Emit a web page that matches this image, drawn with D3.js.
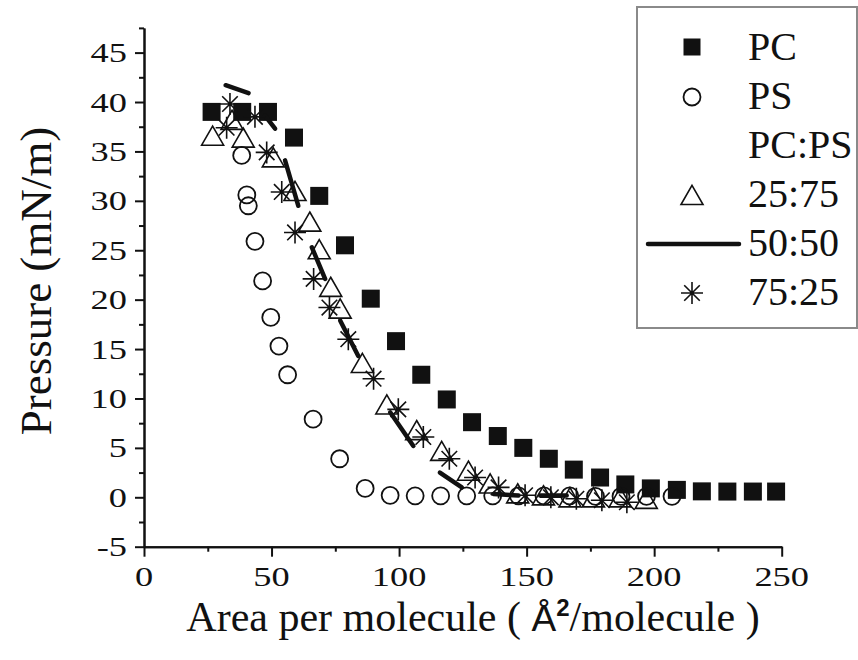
<!DOCTYPE html>
<html><head><meta charset="utf-8">
<script src="https://cdn.jsdelivr.net/npm/d3@7"></script>
<style>html,body{margin:0;padding:0;background:#fff}</style>
</head><body>
<svg id="chart" width="858" height="660"></svg>
<script>
// ---- data ----
const pcX = [26.5, 38.5, 48.6, 58.8, 68.7, 78.8, 88.9, 98.8, 108.7, 118.7, 128.6, 138.7, 148.7, 158.7, 168.5, 178.8, 188.7, 198.7, 208.9, 218.7, 228.7, 238.7, 247.8];
const pcY = [39.0, 39.0, 39.0, 36.4, 30.5, 25.5, 20.1, 15.8, 12.4, 9.9, 7.6, 6.2, 5.0, 3.9, 2.8, 2.0, 1.3, 0.9, 0.75, 0.6, 0.58, 0.58, 0.58];
const psX = [38.3, 40.3, 40.9, 43.5, 46.5, 49.7, 52.9, 56.3, 66.3, 76.7, 86.7, 96.5, 106.3, 116.3, 126.5, 136.7, 146.8, 156.8, 166.9, 177.0, 187.0, 197.0, 207.0];
const psY = [34.6, 30.6, 29.5, 25.9, 21.9, 18.2, 15.3, 12.4, 7.9, 3.9, 0.9, 0.2, 0.15, 0.15, 0.15, 0.15, 0.15, 0.15, 0.15, 0.1, 0.1, 0.1, 0.1];
const s2575X = [26.9, 34.5, 38.9, 50.7, 59.2, 65.0, 68.7, 73.2, 76.9, 85.6, 95.2, 106.9, 116.7, 127.2, 135.7, 146.5, 156.6, 167.0, 176.2, 186.7, 196.9];
const s2575Y = [36.6, 38.2, 36.4, 34.4, 31.0, 27.9, 25.1, 21.3, 19.1, 13.6, 9.4, 6.8, 4.7, 2.7, 1.4, 0.4, 0.2, 0.0, 0.0, 0.0, -0.15];
// 50:50 curve, drawn as broken segments (pairs of points)
const s5050X = [32.0, 41.0, 47.5, 51.4, 55.3, 60.5, 65.8, 71.0, 76.9, 84.0, 96.5, 105.6, 116.0, 124.6, 137.0, 146.8, 155.3, 165.7];
const s5050Y = [41.7, 40.9, 38.6, 37.3, 34.1, 29.5, 25.3, 22.1, 17.9, 14.3, 8.6, 5.2, 2.5, 1.0, 0.34, 0.17, 0.17, 0.17];
const s7525X = [33.7, 32.4, 43.5, 48.1, 54.0, 59.2, 66.5, 72.7, 80.1, 90.0, 99.7, 109.5, 119.7, 129.8, 139.0, 149.4, 159.5, 169.5, 179.5, 189.3];
const s7525Y = [39.8, 37.4, 38.5, 34.9, 30.9, 26.8, 22.1, 19.2, 16.0, 12.0, 8.9, 6.1, 3.9, 2.0, 1.0, 0.2, 0.0, -0.15, -0.3, -0.5];
const xMajorTicks = [0, 50, 100, 150, 200, 250];
const xMinorTicks = [25, 75, 125, 175, 225];
const yMajorTicks = [-5, 0, 5, 10, 15, 20, 25, 30, 35, 40, 45];
const yMinorTicks = [-2.5, 2.5, 7.5, 12.5, 17.5, 22.5, 27.5, 32.5, 37.5, 42.5, 47.5];
const legendLabels = ["PC", "PS", "PC:PS", "25:75", "50:50", "75:25"];

// ---- drawing ----
const svg = d3.select("#chart");
const ink = "#111";
const serif = "Liberation Serif";
const sans = "Liberation Sans";
const x = d3.scaleLinear().domain([0, 250]).range([144, 781.7]);
const y = d3.scaleLinear().domain([-5, 47.5]).range([546.7, 27.9]);
const tickFont = 28, stretch = 1.3;

function styleAxis(g) {
  g.selectAll("path.domain").attr("stroke", ink).attr("stroke-width", 2);
  g.selectAll(".tick line").attr("stroke", ink).attr("stroke-width", 2);
}
const gx = svg.append("g").attr("transform", `translate(0,${y(-5)})`)
  .call(d3.axisBottom(x).tickValues(xMajorTicks).tickSize(10).tickSizeOuter(0).tickFormat(""));
styleAxis(gx);
const gxm = svg.append("g").attr("transform", `translate(0,${y(-5)})`)
  .call(d3.axisBottom(x).tickValues(xMinorTicks).tickSize(5).tickSizeOuter(0).tickFormat(""));
styleAxis(gxm);
const gy = svg.append("g").attr("transform", `translate(${x(0)},0)`)
  .call(d3.axisLeft(y).tickValues(yMajorTicks).tickSize(9).tickSizeOuter(0).tickFormat(""));
styleAxis(gy);
const gym = svg.append("g").attr("transform", `translate(${x(0)},0)`)
  .call(d3.axisLeft(y).tickValues(yMinorTicks).tickSize(5).tickSizeOuter(0).tickFormat(""));
styleAxis(gym);

xMajorTicks.forEach(v => {
  svg.append("text").attr("transform", `translate(${x(v)},${y(-5) + 39}) scale(${stretch},1)`)
    .attr("text-anchor", "middle").attr("fill", ink).attr("font-family", serif).attr("font-size", tickFont).text(String(v));
});
yMajorTicks.forEach(v => {
  svg.append("text").attr("transform", `translate(${x(0) - 17},${y(v) + 9.5}) scale(${stretch},1)`)
    .attr("text-anchor", "end").attr("fill", ink).attr("font-family", serif).attr("font-size", tickFont).text(String(v));
});

// axis titles
svg.append("text").attr("x", 473).attr("y", 631).attr("text-anchor", "middle")
  .attr("fill", ink).attr("font-family", serif).attr("font-size", 42)
  .call(t => {
    t.append("tspan").text("Area per molecule ( ");
    t.append("tspan").attr("font-family", sans).attr("font-size", 37).text("Å");
    t.append("tspan").attr("dy", "-15").attr("font-family", sans).attr("font-weight", "bold").attr("font-size", 24).text("2");
    t.append("tspan").attr("dy", "15").text("/molecule )");
  });
svg.append("text").attr("transform", "translate(51,281) rotate(-90)").attr("text-anchor", "middle")
  .attr("fill", ink).attr("font-family", serif).attr("font-size", 45).text("Pressure (mN/m)");

function sq(g, cx, cy, s) {
  g.append("rect").attr("x", cx - s / 2).attr("y", cy - s / 2).attr("width", s).attr("height", s).attr("fill", ink);
}
function circ(g, cx, cy, r) {
  g.append("circle").attr("cx", cx).attr("cy", cy).attr("r", r).attr("fill", "none").attr("stroke", ink).attr("stroke-width", 1.8);
}
function tri(g, cx, cy, w) {
  const h = w * 0.87;
  g.append("path").attr("d", `M${cx},${cy - h / 2}L${cx + w / 2},${cy + h / 2}L${cx - w / 2},${cy + h / 2}Z`)
    .attr("fill", "none").attr("stroke", ink).attr("stroke-width", 1.6).attr("stroke-linejoin", "miter");
}
function star(g, cx, cy, r) {
  const d = r * Math.SQRT1_2;
  g.append("path").attr("d",
    `M${cx - r},${cy}H${cx + r}M${cx},${cy - r}V${cy + r}M${cx - d},${cy - d}L${cx + d},${cy + d}M${cx - d},${cy + d}L${cx + d},${cy - d}`)
    .attr("fill", "none").attr("stroke", ink).attr("stroke-width", 1.6);
}

const plot = svg.append("g");
pcX.forEach((v, i) => sq(plot, x(v), y(pcY[i]), 18));
psX.forEach((v, i) => circ(plot, x(v), y(psY[i]), 8.5));
s2575X.forEach((v, i) => tri(plot, x(v), y(s2575Y[i]), 22));
for (let i = 0; i + 1 < s5050X.length; i += 2) {
  plot.append("path")
    .attr("d", d3.line()([[x(s5050X[i]), y(s5050Y[i])], [x(s5050X[i + 1]), y(s5050Y[i + 1])]]))
    .attr("stroke", ink).attr("stroke-width", 4.5).attr("stroke-linecap", "round").attr("fill", "none");
}
s7525X.forEach((v, i) => star(plot, x(v), y(s7525Y[i]), 11));

// legend
svg.append("rect").attr("x", 637).attr("y", 7).attr("width", 220).attr("height", 321)
  .attr("fill", "#fff").attr("stroke", "#8a8a8a").attr("stroke-width", 2);
const base0 = 60, step = 49;
legendLabels.forEach((lab, i) => {
  svg.append("text").attr("x", 748).attr("y", base0 + i * step).attr("fill", ink)
    .attr("font-family", serif).attr("font-size", 40).text(lab);
});
const sx = 692;
sq(svg, sx, base0 - 13, 17);
circ(svg, sx, base0 + step - 12, 8.5);
tri(svg, sx, base0 + 3 * step - 12, 22);
svg.append("line").attr("x1", 648).attr("x2", 739).attr("y1", base0 + 4 * step - 12).attr("y2", base0 + 4 * step - 12)
  .attr("stroke", ink).attr("stroke-width", 4.5).attr("stroke-linecap", "round");
star(svg, sx, base0 + 5 * step - 12, 11);
</script>
</body></html>
